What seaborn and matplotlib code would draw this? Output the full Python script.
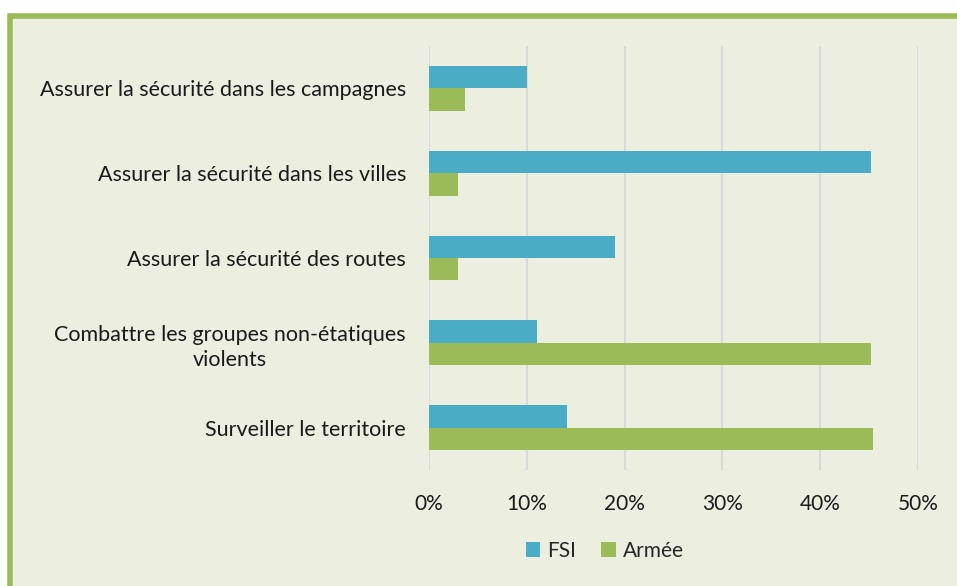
import pandas as pd
import seaborn as sns
import matplotlib.pyplot as plt
from matplotlib.patches import Rectangle
from matplotlib.ticker import PercentFormatter

# Values (percent)
categories = [
    "Assurer la sécurité dans les campagnes",
    "Assurer la sécurité dans les villes",
    "Assurer la sécurité des routes",
    "Combattre les groupes non-étatiques\nviolents",
    "Surveiller le territoire",
]
fsi = [10.0, 45.2, 19.0, 11.0, 14.1]
armee = [3.7, 3.0, 3.0, 45.2, 45.4]

df = pd.DataFrame({
    "Mission": categories * 2,
    "Part": fsi + armee,
    "Force": ["FSI"] * len(categories) + ["Armée"] * len(categories),
})

bg = "#ECEFDF"
sns.set_style("white")
plt.rcParams["font.family"] = ["Lato", "DejaVu Sans"]

fig = plt.figure(figsize=(9.57, 5.86), dpi=100)
fig.patch.set_facecolor("white")
# green frame around the chart area
fig.patches.append(Rectangle((10 / 957, -0.05), 1.05, 1 - 16 / 586 + 0.05,
                             transform=fig.transFigure, facecolor=bg,
                             edgecolor="#9BBB59", linewidth=4, zorder=-10))

ax = fig.add_axes([429 / 957, 1 - 470 / 586, (918 - 429) / 957, (470 - 46) / 586])
ax.set_facecolor("none")
sns.barplot(data=df, y="Mission", x="Part", hue="Force", orient="h",
            palette={"FSI": "#4BACC6", "Armée": "#9BBB59"}, saturation=1,
            width=0.53, linewidth=0, ax=ax, legend=True, zorder=3)

ax.set_xlim(0, 50)
ax.set_ylim(4.5, -0.5)
ax.set_xticks([0, 10, 20, 30, 40, 50])
ax.xaxis.set_major_formatter(PercentFormatter(decimals=0))
ax.grid(axis="x", color="#D9D9D9", linewidth=1.5, zorder=0)
ax.set_axisbelow(True)
for s in ax.spines.values():
    s.set_visible(False)
ax.tick_params(axis="x", length=0, labelsize=15, colors="#1a1a1a", pad=17)
ax.tick_params(axis="y", length=0, labelsize=15.5, colors="#1a1a1a", pad=16.5)
for lbl in ax.get_yticklabels():
    lbl.set_horizontalalignment("right")
    lbl.set_multialignment("center")
    lbl.set_linespacing(1.35)
ax.set_xlabel("")
ax.set_ylabel("")

handles, labels = ax.get_legend_handles_labels()
ax.legend(handles, labels, loc="center", bbox_to_anchor=(605 / 957, 1 - 551 / 586),
          bbox_transform=fig.transFigure, ncol=2, frameon=False, fontsize=15,
          handlelength=0.7, handleheight=0.7, handletextpad=0.35, columnspacing=1.2)

fig.savefig("out.png", dpi=100)
